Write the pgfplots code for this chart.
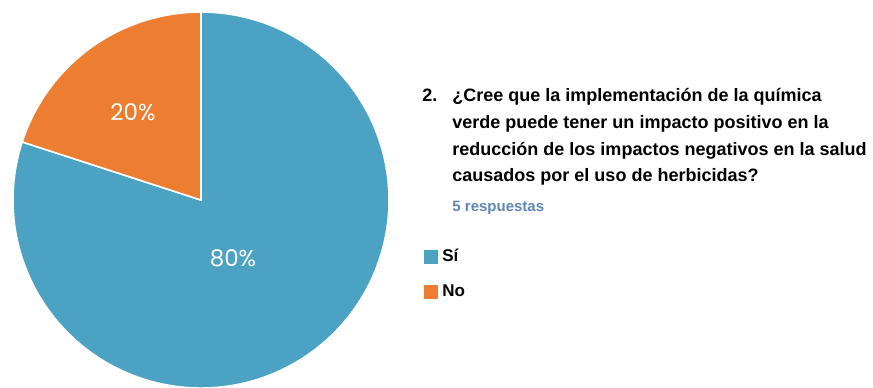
\documentclass[border=0pt]{standalone}
\usepackage{pgfplots}
\pgfplotsset{compat=1.18}
\usepackage{fontspec}
\setmainfont{Liberation Sans}
\newfontfamily\numfont{Poppins}
\definecolor{piblue}{RGB}{75,162,194}
\definecolor{piorange}{RGB}{237,125,49}
\definecolor{respblue}{RGB}{95,135,180}
\def\vSi{80}
\def\vNo{20}
\begin{document}
\begin{tikzpicture}
\begin{axis}[
  x=94pt, y=94pt,
  xmin=-1.069, xmax=3.574, ymin=-0.995, ymax=1.064,
  axis line style={draw=none}, xtick=\empty, ytick=\empty, clip=true,
  legend style={at={(axis cs:1.186,-0.237)}, anchor=north west, draw=none, fill=none,
    inner sep=0pt, font=\bfseries\fontsize{8.5}{9}\selectfont, row sep=6pt,
    /tikz/every even column/.append style={column sep=4.5pt}},
  legend cell align=left,
  legend image code/.code={\path[#1, draw=none] (0pt,-3.5pt) rectangle (7pt,3.5pt);},
]
\addplot[fill=piblue, draw=white, line width=0.8pt, domain={90-3.6*\vSi}:90, samples=200]
  ({cos(x)},{sin(x)}) -- (axis cs:0,0) -- cycle;
\addlegendentry{Sí}
\addplot[fill=piorange, draw=white, line width=0.8pt, domain=90:{90+3.6*\vNo}, samples=60]
  ({cos(x)},{sin(x)}) -- (axis cs:0,0) -- cycle;
\addlegendentry{No}
\node[text=white, font=\numfont\fontsize{11.5}{12}\selectfont] at (axis cs:-0.3617,0.468) {20\%};
\node[text=white, font=\numfont\fontsize{11.5}{12}\selectfont] at (axis cs:0.170,-0.3085) {80\%};
\begin{scope}[every node/.style={anchor=base west, inner sep=0pt, font=\bfseries\fontsize{9}{10}\selectfont}]
\node at (axis cs:1.1755,0.5266) {2.};
\node at (axis cs:1.3351,0.5266) {¿Cree que la implementación de la química};
\node at (axis cs:1.3351,0.383) {verde puede tener un impacto positivo en la};
\node at (axis cs:1.3351,0.2394) {reducción de los impactos negativos en la salud};
\node at (axis cs:1.3351,0.1011) {causados por el uso de herbicidas?};
\end{scope}
\node[anchor=base west, inner sep=0pt, text=respblue, font=\bfseries\fontsize{7.5}{8}\selectfont] at (axis cs:1.3351,-0.0585) {5 respuestas};
\end{axis}
\pgfresetboundingbox
\path (current axis.south west) rectangle (current axis.north east);
\end{tikzpicture}
\end{document}
